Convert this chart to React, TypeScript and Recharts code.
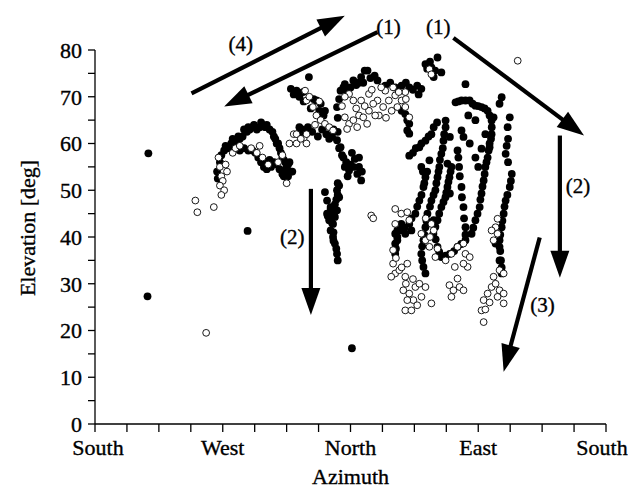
import React from 'react';
import { ScatterChart, Scatter, XAxis, YAxis, ReferenceLine, ReferenceDot } from 'recharts';

const FONT = '"Liberation Serif", "Times New Roman", serif';

const xTicks = [0, 22.5, 45, 67.5, 90, 112.5, 135, 157.5, 180, 202.5, 225, 247.5, 270, 292.5, 315, 337.5, 360];
const xTickLabels: Record<number, string> = { 0: 'South', 90: 'West', 180: 'North', 270: 'East', 360: 'South' };
const yTicks = [0, 5, 10, 15, 20, 25, 30, 35, 40, 45, 50, 55, 60, 65, 70, 75, 80];

// [azimuth deg (South=0 -> West=90 -> North=180 -> East=270 -> South=360), elevation deg]
const isolatedFilled = [[37.6, 57.9], [37, 27.3], [107.5, 41.3], [181, 16.2]];
const isolatedHollow = [[70.7, 47.8], [72.1, 45.3], [83.7, 46.4], [78.3, 19.5], [297.8, 77.7], [194.6, 44.6], [196, 44]];

const westFilled = [
  [86, 54], [86.5, 52.5], [88, 56], [89, 57.5], [91, 58.5], [92, 59.5], [94, 59], [96, 60], [97, 61], [99, 60.5],
  [101, 61.5], [102, 61], [104, 61.5], [105, 63], [107, 62.5], [108, 63.5], [109, 63], [111, 63.5], [112, 64],
  [114, 63], [116, 63.5], [117, 64.5], [118, 64], [120, 63.5], [121, 64], [123, 63], [125, 62.5], [126, 61.5],
  [127, 61], [128, 60], [129, 60], [130, 59], [131, 58], [132, 57], [133, 56.5], [134, 56], [135, 55], [134, 54],
  [133, 53], [132, 53.5], [130, 54.5], [128, 55.5], [126, 56], [124, 55], [123, 56.5], [121, 54.5], [119, 55],
  [118, 56.5], [117, 56], [115, 57], [113, 58], [111, 58.5], [108, 58.5], [105, 59], [102, 58.5], [136, 55.5],
  [137, 56], [138, 54], [139, 54], [136, 53], [143, 62], [144, 63.5], [146, 63], [148, 62], [150, 63.5], [153, 62.5],
];

const westHollow = [
  [87, 57], [88, 55], [89, 53], [90, 52], [88, 51], [91, 50], [89, 49], [93, 54], [92, 55.5], [97, 58], [99, 59],
  [102, 59.5], [110, 59], [114, 58], [116, 59.5], [118, 57], [122, 55.5], [129, 56], [132, 57.5], [135, 51.5],
  [140, 62], [137, 60], [147, 61], [149, 62], [142, 60],
];

const northFilled = [
  [138, 71.7], [140, 70.5], [142, 71.3], [144, 70], [146.5, 71], [150.7, 74.2], [147, 69], [152, 67.5], [154, 69.5],
  [156, 69.2], [158, 67], [159, 68.5], [161, 66], [162, 67], [160, 63], [157, 61.5], [163, 62], [165, 61], [167, 61.5],
  [168, 63], [170.5, 67.8], [171, 65.5], [172, 69.5], [173, 71.3], [175, 72], [176, 72.7], [178, 71], [180, 72],
  [182, 73.5], [184, 72.5], [186, 73], [187.5, 74.2], [189, 73], [190, 75.6], [192, 75.6], [194, 74], [197, 74.5],
  [199, 73.5], [170.5, 60.7], [171, 62.5], [172, 59], [173, 59.2], [174, 57.5], [175, 57], [176, 55], [177, 56],
  [179, 54.2], [180, 55.5], [182, 55], [183, 56.7], [184.8, 53.5], [186, 57], [186, 55], [187.5, 52.1], [188, 54],
  [178, 53], [181, 58], [172, 51], [170.5, 50], [172, 48.5], [162, 49.6], [163.5, 47.8], [169, 47], [166, 46.4],
  [170.5, 45.7], [163.5, 45], [169, 44.3], [165, 43.6], [167.7, 42.8], [166, 41.4], [168, 41], [167.7, 40],
  [169, 38.6], [168, 39.2], [170.5, 36.4], [170, 37.5], [171, 35], [171, 49], [170, 48], [164, 44.5], [167, 43],
  [166, 46], [168, 45], [171, 51.5],
];

const northHollow = [
  [148, 71.3], [149, 69.2], [151, 70], [153.5, 67.8], [156, 66], [159, 65], [162, 64.2], [165, 63.5], [167.7, 62.8],
  [142, 62], [149, 60], [145, 61], [176, 65.6], [179, 64.2], [182, 65], [186, 66], [189, 65.6], [182, 69.2],
  [179, 70.6], [187.5, 69.2], [193, 70.6], [199, 69.2], [203, 67.8], [207, 69.2], [211.5, 70.3], [204.5, 71.3],
  [209, 67], [213, 67.8], [216, 69.2], [218.6, 71], [193, 67], [200, 66], [191.7, 64.2], [184.7, 63.5], [177.6, 63.1],
  [201.6, 72], [197.4, 66], [174, 68], [176, 70], [184, 67.5], [190, 68], [196, 68.5], [205, 65.5], [210, 72],
  [214, 71], [195, 71.5], [158, 69], [155, 64],
];

const eastTopFilled = [
  [204.5, 72.4], [208, 73], [211.5, 72], [216, 72.4], [219, 73], [221.4, 72], [224, 71.5], [227, 72.4], [229.9, 71.7],
  [228, 70.5], [216, 67], [218.6, 66.3], [220, 65], [221.4, 64.2], [220, 62.8], [221.4, 62.1], [232.8, 77], [234, 76],
  [237, 76.3], [239.6, 75.6], [241.3, 78.4], [238.6, 74.2], [244, 75.2], [236, 77.5],
];

const eastTopHollow = [[235.6, 75.9], [237, 74.8], [221.4, 65.6], [218.6, 67.8], [219, 69.5]];

const eastStrandFilled = [
  [221.4, 57.4], [224, 58], [226, 59], [228.5, 59.2], [230, 60], [232.8, 60.6], [235, 61.5], [237, 62], [238.6, 63.5],
  [241, 64.5], [229.9, 55], [231, 54], [232.8, 52.8], [232, 51.5], [231.4, 50.7], [230, 49], [228.5, 47.8],
  [227, 46.5], [225.7, 45], [223, 44], [221.4, 42.8], [218, 42], [215.8, 41.4], [213, 40], [211.5, 38.6], [213, 41.4],
  [218.6, 40.7], [222.9, 41.4], [213, 39.3], [211.5, 40.7], [215.8, 42.8], [211.5, 36.4], [212, 37.5], [235.6, 56.4],
  [234, 54],
  [247, 63.5], [246, 62], [245.5, 60.6], [245, 59], [244, 57.8], [243, 56.5], [242.6, 55], [242, 54], [241.3, 52.8],
  [240.5, 51.5], [239.8, 50], [238.5, 49], [237, 47.8], [236, 46.5], [234.2, 45], [233.5, 43.5], [232.8, 42.1],
  [232, 40.5], [231.4, 39.3], [230.5, 38], [229.9, 36.4], [230.5, 35], [231.4, 33.6], [232.8, 32.2], [247, 64.9],
  [250, 61.4],
  [255.4, 58.5], [256, 57], [256.5, 55], [257, 53], [258.2, 50.7], [258.5, 48.5], [259.6, 46.4], [260, 44],
  [261, 42.1], [261, 40.5], [261, 39.3], [258, 38.5], [255.4, 37.9], [253, 37], [250, 36.4], [247, 36], [244, 35.7],
  [242.5, 36.8], [241.3, 37.9], [240, 39.5], [238.4, 40.7], [239.8, 42.2], [241.3, 43.6], [242.5, 45], [244, 46.4],
  [245.5, 47.5], [246.9, 48.5], [247.5, 49.5], [248.3, 50.7], [249, 51.8], [249.7, 52.8], [250.5, 54], [251.1, 55],
  [248.3, 55.7], [250, 49.3], [238.6, 43.6],
  [265.3, 40.7], [266.5, 42], [268, 43.6], [269.5, 45], [271, 46.4], [271.5, 48], [272.3, 49.3], [273, 50.8],
  [273.8, 52.1], [274.5, 53.5], [275, 55], [275.8, 56], [276.6, 57], [277.3, 58.5], [278, 60], [279, 61], [279.4, 62],
  [279.5, 63.5], [279.4, 64.9], [278, 66], [276.6, 67], [274.5, 67.5], [272.3, 67.8], [270, 68], [268, 68.1],
  [266, 68.5], [263.9, 69.2], [261, 69.2], [258.2, 69.2], [256, 69], [254, 68.8], [261, 72.7], [258.2, 62.8],
  [259.6, 61.4], [272.3, 58.9], [275, 62], [263, 66], [268, 65], [264, 60], [268, 57], [270, 55],
  [289.3, 57.8], [291, 56], [293.6, 53.5], [293, 52], [292.2, 50.7], [290.5, 49], [289.3, 47.8], [288.5, 46.5],
  [287.9, 45], [287, 43.5], [286.5, 42.1], [285.5, 40.5], [285, 39.3], [285.5, 37], [286, 35], [286.5, 33.5],
  [286.5, 32.2], [290.7, 63.5], [292.2, 65.6], [286.5, 69.9], [285, 68.5], [280.8, 65.6], [278, 59.2], [291, 61],
  [290, 59.5], [282.2, 38.6], [285, 37.9], [285, 35],
];

const eastLowHollow = [
  [211.5, 46], [215.8, 45], [220, 45.3], [221.4, 43.6], [211.5, 42.8], [210, 37.2], [210, 34.3], [211.5, 32.2],
  [214.4, 32.9], [218.6, 31.5], [220, 34.3], [208.7, 31.5], [212, 35.5], [216, 33.5],
  [217.2, 28.6], [221.4, 27.9], [225.7, 29.3], [228.5, 30], [224.3, 26.5], [227, 25.4], [218.6, 24.3], [222.9, 24.3],
  [237, 25.8], [230, 27.2], [220, 26.5], [232.8, 29.3], [224, 31], [219, 30],
  [229.9, 40.7], [232.8, 39.3], [235.6, 37.9], [239.8, 35.7], [238.6, 41.4], [237, 42.8], [241.3, 37.5], [247, 35],
  [251.1, 36.4], [255.4, 37.9], [259.6, 38.6], [261, 36.4], [264, 35.7], [262.5, 33.6], [259.6, 34.3], [253.5, 33.6],
  [233, 44], [236, 40],
  [249.7, 29.7], [252.5, 28.6], [256.8, 29.3], [251.1, 27.2], [255.4, 31.1], [259.6, 28.6],
  [273.8, 26.5], [272.3, 24.3], [273.8, 21.8], [276.6, 27.9], [279.4, 29.3], [282.2, 30], [285, 28.6], [287.9, 27.9],
  [287.9, 25.8], [283.6, 27.2], [280.8, 31.5], [285, 32.9], [287.9, 32.2], [283.6, 40.7], [282.2, 42.1],
  [283.6, 43.9], [280.8, 39.3], [279.4, 41.4], [275, 24.5], [278, 26],
];

const arrows = [
  { from: [68, 70.7], to: [176, 87.3] },
  { from: [199, 83.8], to: [91, 67.9] },
  { from: [252.5, 82.6], to: [344.5, 61.7] },
  { from: [327.5, 61.7], to: [327.5, 31.3] },
  { from: [152.1, 50.3], to: [152.1, 23.3] },
  { from: [313.3, 39.9], to: [287.9, 11.2] },
];

const arrowLabels = [
  { x: 102.7, y: 81.3, text: '(4)' },
  { x: 206.7, y: 85, text: '(1)' },
  { x: 241.8, y: 85, text: '(1)' },
  { x: 340.2, y: 51, text: '(2)' },
  { x: 138.9, y: 40, text: '(2)' },
  { x: 315.3, y: 25.4, text: '(3)' },
];

const toPts = (arr: number[][]) => arr.map(([x, y]) => ({ x, y }));
const filledData = toPts([...isolatedFilled, ...westFilled, ...northFilled, ...eastTopFilled, ...eastStrandFilled]);
const hollowData = toPts([...isolatedHollow, ...westHollow, ...northHollow, ...eastTopHollow, ...eastLowHollow]);

const FilledDot = (p: any) => <circle cx={p.cx} cy={p.cy} r={3.9} fill="#000" />;
const HollowDot = (p: any) => <circle cx={p.cx} cy={p.cy} r={3.4} fill="#fff" stroke="#000" strokeWidth={0.9} />;

const ArrowShape = (p: any) => {
  const { x1, y1, x2, y2 } = p;
  const dx = x2 - x1;
  const dy = y2 - y1;
  const len = Math.sqrt(dx * dx + dy * dy) || 1;
  const ux = dx / len;
  const uy = dy / len;
  const hl = 27;
  const hw = 9.5;
  const bx = x2 - ux * hl;
  const by = y2 - uy * hl;
  const pts = `${x2},${y2} ${bx - uy * hw},${by + ux * hw} ${bx + uy * hw},${by - ux * hw}`;
  return (
    <g>
      <line x1={x1} y1={y1} x2={bx + ux * 2} y2={by + uy * 2} stroke="#000" strokeWidth={4.2} />
      <polygon points={pts} fill="#000" />
    </g>
  );
};

const TXT = { fontFamily: FONT, fill: '#000', stroke: '#000', strokeWidth: 0.35 };

const TextMark = (text: string) => (p: any) => (
  <text x={p.cx} y={p.cy} textAnchor="middle" dominantBaseline="central" fontSize={21} {...TXT}>
    {text}
  </text>
);

const XTick = (p: any) => {
  const v = p.payload?.value;
  const label = xTickLabels[v] ?? '';
  if (!label) return <g />;
  const shift = v === 360 ? -4 : v === 0 ? 3 : 0;
  return (
    <text x={p.x + shift} y={p.y} dy="0.71em" textAnchor="middle" fontSize={22} {...TXT}>{label}</text>
  );
};

const YLabel = (p: any) => {
  const vb = p.viewBox || { x: 0, y: 50, width: 95, height: 374 };
  const cx = vb.x + 27;
  const cy = vb.y + vb.height / 2 - 9;
  return (
    <text x={cx} y={cy} transform={`rotate(-90 ${cx} ${cy})`} textAnchor="middle" dominantBaseline="central"
      fontSize={22} {...TXT}>Elevation [deg]</text>
  );
};

const XLabel = (p: any) => {
  const vb = p.viewBox || { x: 95, y: 424, width: 511, height: 64 };
  return (
    <text x={vb.x + vb.width / 2} y={vb.y + 60} textAnchor="middle" fontSize={22} {...TXT}>Azimuth</text>
  );
};

export default function App() {
  return (
    <div style={{ position: 'fixed', left: 0, top: 0, width: 628, height: 488, background: '#fff' }}>
      <ScatterChart width={628} height={488} margin={{ top: 50, right: 22, bottom: 0, left: 0 }}>
        <XAxis type="number" dataKey="x" domain={[0, 360]} ticks={xTicks} interval={0} allowDataOverflow
          tickSize={8} tickMargin={7} height={64}
          stroke="#000" strokeWidth={1.3} tick={XTick}
          label={{ content: XLabel }} />
        <YAxis type="number" dataKey="y" domain={[0, 80]} ticks={yTicks} interval={0} allowDataOverflow
          tickFormatter={(v: number) => (v % 10 === 0 ? String(v) : '')} tickSize={7} tickMargin={6} width={95}
          stroke="#000" strokeWidth={1.3} tick={{ fontSize: 22, ...TXT }}
          label={{ content: YLabel }} />
        <Scatter data={filledData} shape={FilledDot} isAnimationActive={false} />
        <Scatter data={hollowData} shape={HollowDot} isAnimationActive={false} />
        {arrows.map((a, i) => (
          <ReferenceLine key={'a' + i} segment={[{ x: a.from[0], y: a.from[1] }, { x: a.to[0], y: a.to[1] }]}
            ifOverflow="visible" shape={ArrowShape} />
        ))}
        {arrowLabels.map((l, i) => (
          <ReferenceDot key={'l' + i} x={l.x} y={l.y} r={0} ifOverflow="visible" shape={TextMark(l.text)} />
        ))}
      </ScatterChart>
    </div>
  );
}
